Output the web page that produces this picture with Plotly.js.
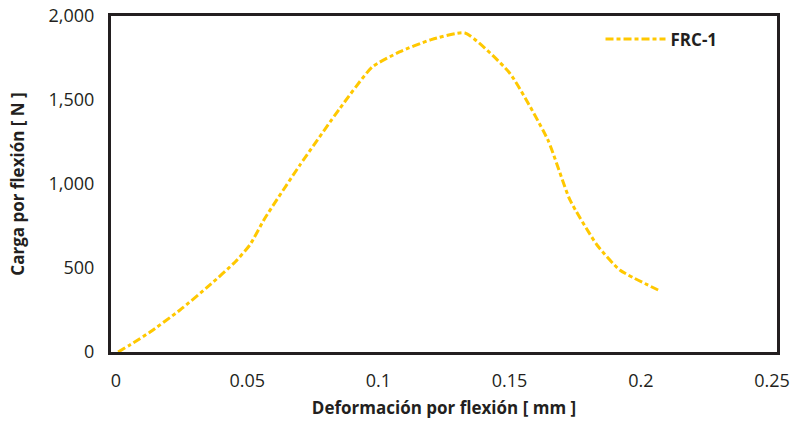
<!DOCTYPE html>
<html><head><meta charset="utf-8">
<script src="https://cdn.plot.ly/plotly-3.0.1.min.js"></script>
<style>html,body{margin:0;padding:0;background:#fff}#chart{width:795px;height:426px}</style>
</head><body><div id="chart"></div>
<script>
const seriesName = "FRC-1";
const deformation = [0.0008, 0.0053, 0.013, 0.0244, 0.0358, 0.0454, 0.051, 0.0568, 0.0701, 0.0854, 0.0976, 0.108, 0.1197, 0.133, 0.150, 0.1646, 0.173, 0.1833, 0.192, 0.2066];
const load = [0, 42, 119, 250, 399, 536, 637, 798, 1113, 1452, 1696, 1786, 1857, 1899, 1661, 1262, 905, 637, 488, 369];
const xTicks = [0, 0.05, 0.1, 0.15, 0.2, 0.25];
const xTickText = ["0", "0.05", "0.1", "0.15", "0.2", "0.25"];
const yTicks = [0, 500, 1000, 1500, 2000];
const yTickText = ["0", "500", "1,000", "1,500", "2,000"];

const font = "'Open Sans', 'Noto Sans', sans-serif";
Plotly.newPlot('chart', [{
  x: deformation, y: load, name: seriesName, type: 'scatter', mode: 'lines',
  line: {color: '#FFC800', width: 3, dash: '8px,3px,4px,3px', shape: 'spline', smoothing: 0.5}
}], {
  width: 795, height: 426,
  margin: {l: 111, r: 18, t: 16, b: 74},
  paper_bgcolor: '#fff', plot_bgcolor: '#fff',
  font: {family: font, color: '#231f20'},
  showlegend: true,
  legend: {x: 0.735, y: 0.93, xanchor: 'left', yanchor: 'middle', itemwidth: 60, bgcolor: 'rgba(0,0,0,0)', font: {size: 17, family: font, weight: 'bold', color: '#231f20'}},
  xaxis: {
    range: [-0.0019, 0.2519], tickvals: xTicks, ticktext: xTickText,
    showgrid: false, zeroline: false, showline: true, mirror: true, linecolor: '#231f20', linewidth: 3,
    ticks: '', ticklabelstandoff: 10, tickfont: {size: 18, family: font, color: '#231f20'},
    title: {text: 'Deformación por flexión [ mm ]', font: {size: 17, family: font, weight: 'bold', color: '#231f20'}, standoff: 12}
  },
  yaxis: {
    range: [0, 2000], tickvals: yTicks, ticktext: yTickText,
    showgrid: false, zeroline: false, showline: true, mirror: true, linecolor: '#231f20', linewidth: 3,
    ticks: '', ticklabelstandoff: 10, tickfont: {size: 18, family: font, color: '#231f20'},
    title: {text: 'Carga por flexión [ N ]', font: {size: 17, family: font, weight: 'bold', color: '#231f20'}, standoff: 20}
  }
}, {displayModeBar: false});
</script></body></html>
